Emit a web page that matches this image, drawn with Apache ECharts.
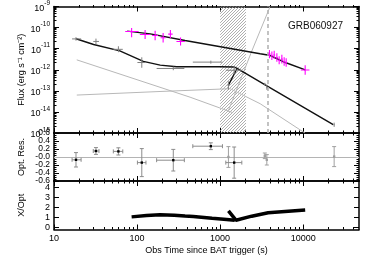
<!DOCTYPE html>
<html>
<head>
<meta charset="utf-8">
<script src="https://cdn.jsdelivr.net/npm/echarts@6/dist/echarts.min.js"></script>
<style>
html, body { margin: 0; padding: 0; background: #fff; }
#chart { width: 374px; height: 267px; }
</style>
</head>
<body>
<div id="chart"></div>
<script>
// 光学数据点（上图灰色十字，与残差黑点同一批）
const optT   = [18.4, 32, 59.6, 114, 273, 773, 1476]
const optTlo = [16.5, 29.7, 51.8, 101, 172, 469, 1171]
const optThi = [21.2, 34.8, 67.3, 128, 371, 1067, 1825]
const optF   = [2.9e-11, 2.2e-11, 9.3e-12, 2.2e-12, 1.15e-12, 2.3e-12, 9.5e-13]
const optFlo = [2.4e-11, 1.6e-11, 6.8e-12, 1.24e-12, 0.95e-12, 1.95e-12, 6.0e-13]
const optFhi = [3.5e-11, 3.0e-11, 1.3e-11, 3.9e-12, 1.4e-12, 2.7e-12, 1.5e-12]

// X 射线数据点（上图灰色小十字）
const xrtT   = [1259, 3453, 3650, 23600]
const xrtF   = [1.78e-13, 2.1e-13, 1.48e-13, 2.45e-15]
const xrtFlo = [1.12e-13, 1.83e-13, 1.12e-13, 1.95e-15]
const xrtFhi = [2.8e-13, 2.4e-13, 1.95e-13, 3.1e-15]

// UVOT 数据点（品红色）
const uvotT   = [86, 125, 165, 206, 252, 334, 3926, 4198, 4477, 4823, 5140, 5537, 5903, 6240, 10570]
const uvotTlo = [72, 108, 152, 192, 237, 298, 3800, 4080, 4360, 4700, 5010, 5400, 5760, 6090, 9380]
const uvotThi = [104, 143, 179, 221, 268, 378, 4050, 4320, 4600, 4950, 5270, 5680, 6050, 6400, 11900]
const uvotF   = [6.5e-11, 4.7e-11, 4.2e-11, 3.3e-11, 4.9e-11, 2.2e-11, 5.5e-12, 4.6e-12, 5.0e-12, 3.8e-12, 2.8e-12, 3.2e-12, 2.45e-12, 2.2e-12, 9.8e-13]
const uvotFlo = [3.5e-11, 2.9e-11, 2.5e-11, 1.95e-11, 3.2e-11, 1.42e-11, 3.5e-12, 2.9e-12, 3.2e-12, 2.4e-12, 1.8e-12, 2.0e-12, 1.55e-12, 1.4e-12, 5.8e-13]
const uvotFhi = [9.5e-11, 7.6e-11, 7.1e-11, 5.6e-11, 7.6e-11, 3.4e-11, 8.7e-12, 7.3e-12, 7.9e-12, 6.0e-12, 4.4e-12, 5.1e-12, 3.9e-12, 3.5e-12, 1.65e-12]

// 模型曲线（黑色）
const modelAT = [76, 144, 378, 3034, 3900, 6100, 10600]
const modelAF = [6.8e-11, 5.0e-11, 2.45e-11, 5.7e-12, 4.9e-12, 2.2e-12, 9.8e-13]
const modelBT = [18.4, 30, 62, 119, 190, 300, 600, 1000, 1480, 1600]
const modelBF = [2.95e-11, 1.58e-11, 7.9e-12, 2.5e-12, 1.66e-12, 1.38e-12, 1.38e-12, 1.38e-12, 1.35e-12, 1.15e-12]
const modelCT = [1250, 1600, 3786, 23000]
const modelCF = [1.78e-13, 1.15e-12, 1.58e-13, 2.5e-15]

// 模型分量（浅灰色）
const compDecayT = [18.8, 435, 1435]
const compDecayF = [2.95e-12, 5.0e-14, 9.1e-15]
const compFlatT  = [18.8, 189, 1318, 3034, 10500]
const compFlatF  = [6.3e-14, 9.3e-14, 1.26e-13, 2.45e-14, 1.0e-15]
const compRiseT  = [1240, 2410, 4000]
const compRiseF  = [1.0e-14, 7.8e-12, 1.0e-9]

// 阴影区间与虚线
const hatchBand = [1000, 2050]
const dashT = 3786

// 残差
const resOpt    = [-0.07, 0.15, 0.14, -0.14, -0.08, 0.27, -0.14]
const resOptErr = [0.18, 0.085, 0.09, 0.35, 0.27, 0.085, 0.39]
const resXrt    = [0.0, 0.03, -0.07, 0.01]
const resXrtErr = [0.26, 0.07, 0.13, 0.25]

// X/Opt 比值
const ratio1T = [86, 130, 189, 280, 378, 476, 800, 1200, 1500]
const ratio1V = [1.05, 1.18, 1.26, 1.22, 1.13, 1.08, 0.92, 0.8, 0.72]
const ratio2T = [1260, 1550, 2400, 3786, 10570]
const ratio2V = [1.65, 0.72, 1.12, 1.46, 1.74]

// 刻度
const X_MIN = 10
const X_MAX = 47000
const xMajor = [10, 100, 1000, 10000]
const xMinor = []
for (let d = 10; d < X_MAX; d *= 10) {
  for (let m = 2; m <= 9; m++) if (m * d < X_MAX) xMinor.push(m * d)
}
const fluxMajor = [1e-15, 1e-14, 1e-13, 1e-12, 1e-11, 1e-10, 1e-9]
const fluxMinor = []
for (let e = -15; e < -9; e++) {
  for (let m = 2; m <= 9; m++) fluxMinor.push(m * Math.pow(10, e))
}
const resMajor = [-0.6, -0.4, -0.2, 0, 0.2, 0.4, 0.6]
const resLabelsA = [-0.6, -0.2, 0.2, 0.6]   // 残差标签分两组，避免重叠被隐藏
const resLabelsB = [-0.4, 0, 0.4]
const resMinor = []
for (let i = -12; i <= 12; i++) if (i % 4 !== 0) resMinor.push(i * 0.05)
const ratioMajor = [0, 1, 2, 3, 4]

const FONT = 'Liberation Sans'

const zip = (a, b) => a.map((v, i) => [v, b[i]])

// 阴影图案
const hatch = document.createElement('canvas')
hatch.width = 3
hatch.height = 3
const hc = hatch.getContext('2d')
hc.strokeStyle = '#9a9a9a'
hc.lineWidth = 0.8
hc.beginPath()
hc.moveTo(0, 3); hc.lineTo(3, 0)
hc.moveTo(-1, 1); hc.lineTo(1, -1)
hc.moveTo(2, 4); hc.lineTo(4, 2)
hc.stroke()

const panels = [
  { top: 5, height: 128 },
  { top: 133, height: 48 },
  { top: 181, height: 48.5 }
]

const grids = []
const xAxes = []
const yAxes = []
const lineCol = '#000'

function yCfg (p) {
  if (p === 0) return { type: 'log', min: 1e-15, max: 1e-9, major: fluxMajor, minor: fluxMinor }
  if (p === 1) return { type: 'value', min: -0.6, max: 0.6, major: resMajor, minor: resMinor }
  return { type: 'value', min: -0.2, max: 4.6, major: ratioMajor, minor: null }
}

const resFmt = v => Math.abs(v) < 1e-9 ? '-0.0' : v.toFixed(1)

// 主刻度网格 0-2，次刻度网格 3-5（同一位置叠放）
for (let layer = 0; layer < 2; layer++) {
  panels.forEach((pn, p) => {
    const g = layer * 3 + p
    const main = layer === 0
    grids.push({ left: 54, right: 15, top: pn.top, height: pn.height })
    const yc = yCfg(p)
    ;['bottom', 'top'].forEach(pos => {
      const ax = {
        type: 'log', gridIndex: g, min: X_MIN, max: X_MAX, position: pos,
        splitLine: { show: false },
        axisLine: { show: main, onZero: false, lineStyle: { color: lineCol, width: 1.5 } },
        axisTick: { show: true, inside: true, length: main ? 5 : 2.5, customValues: main ? xMajor : xMinor, lineStyle: { color: lineCol, width: 1 } },
        axisLabel: { show: false }
      }
      if (main && p === 2 && pos === 'bottom') {
        ax.axisLabel = { show: true, customValues: xMajor, fontFamily: FONT, fontSize: 9, color: '#000', margin: 5, formatter: v => String(Math.round(v)) }
        ax.name = 'Obs Time since BAT trigger (s)'
        ax.nameLocation = 'middle'
        ax.nameGap = 17
        ax.nameTextStyle = { fontFamily: FONT, fontSize: 9, color: '#000' }
      }
      xAxes.push(ax)
    })
    ;['left', 'right'].forEach(pos => {
      const ticks = main ? yc.major : yc.minor
      const ay = {
        type: yc.type, gridIndex: g, min: yc.min, max: yc.max, position: pos,
        splitLine: { show: false },
        axisLine: { show: main, onZero: false, lineStyle: { color: lineCol, width: 1.5 } },
        axisTick: ticks ? { show: true, inside: true, length: main ? 5 : 2.5, customValues: ticks, lineStyle: { color: lineCol, width: 1 } } : { show: false },
        axisLabel: { show: false }
      }
      if (pos === 'left' && (main || p === 1)) {
        const lab = {
          show: true, customValues: yc.major, fontFamily: FONT, fontSize: 9, color: '#000', margin: 4,
          showMinLabel: true, showMaxLabel: true, hideOverlap: false
        }
        if (p === 0) {
          lab.formatter = v => '{b|10}{s|' + Math.round(Math.log10(v)) + '}'
          lab.rich = {
            b: { fontFamily: FONT, fontSize: 9, color: '#000', verticalAlign: 'bottom', padding: [4, 0, 0, 0] },
            s: { fontFamily: FONT, fontSize: 6.5, color: '#000', verticalAlign: 'top' }
          }
          ay.name = 'Flux (erg s\u207B\u00B9 cm\u207B\u00B2)'
        } else if (p === 1) {
          lab.customValues = main ? resLabelsA : resLabelsB
          lab.formatter = resFmt
          lab.fontSize = 8.5
          if (main) ay.name = 'Opt. Res.'
        } else {
          lab.formatter = v => String(v)
          ay.name = 'X/Opt'
        }
        ay.axisLabel = lab
        if (main) {
          ay.nameLocation = 'middle'
          ay.nameGap = 28
          ay.nameMoveOverlap = false
          ay.nameTextStyle = { fontFamily: FONT, fontSize: 9, color: '#000' }
        }
      }
      yAxes.push(ay)
    })
  })
}

// 误差棒（custom series 通过坐标轴换算）
function crossItem (color, width, cap, dot) {
  return function (params, api) {
    const x = api.value(0)
    const y = api.value(1)
    const c = api.coord([x, y])
    const xl = api.coord([api.value(2), y])
    const xh = api.coord([api.value(3), y])
    const yl = api.coord([x, api.value(4)])
    const yh = api.coord([x, api.value(5)])
    const st = { stroke: color, lineWidth: width }
    const kids = [
      { type: 'line', shape: { x1: xl[0], y1: c[1], x2: xh[0], y2: c[1] }, style: st },
      { type: 'line', shape: { x1: c[0], y1: yl[1], x2: c[0], y2: yh[1] }, style: st }
    ]
    if (cap) {
      kids.push({ type: 'line', shape: { x1: c[0] - cap, y1: yl[1], x2: c[0] + cap, y2: yl[1] }, style: st })
      kids.push({ type: 'line', shape: { x1: c[0] - cap, y1: yh[1], x2: c[0] + cap, y2: yh[1] }, style: st })
      if (xh[0] - xl[0] > 1) {
        kids.push({ type: 'line', shape: { x1: xl[0], y1: c[1] - cap, x2: xl[0], y2: c[1] + cap }, style: st })
        kids.push({ type: 'line', shape: { x1: xh[0], y1: c[1] - cap, x2: xh[0], y2: c[1] + cap }, style: st })
      }
    }
    if (dot) kids.push({ type: 'rect', shape: { x: c[0] - 1.2, y: c[1] - 1.2, width: 2.4, height: 2.4 }, style: { fill: dot } })
    return { type: 'group', children: kids }
  }
}

function errSeries (p, rows, color, width, cap, dot) {
  return {
    type: 'custom', xAxisIndex: p * 2, yAxisIndex: p * 2, clip: true, z: 5,
    renderItem: crossItem(color, width, cap, dot),
    encode: { x: [0, 2, 3], y: [1, 4, 5] },
    data: rows
  }
}

function lineSeries (p, data, color, width, z) {
  return {
    type: 'line', xAxisIndex: p * 2, yAxisIndex: p * 2, data: data, showSymbol: false, symbol: 'none',
    lineStyle: { color: color, width: width }, clip: true, z: z, silent: true
  }
}

const optRows = optT.map((t, i) => [t, optF[i], optTlo[i], optThi[i], optFlo[i], optFhi[i]])
const xrtRows = xrtT.map((t, i) => [t, xrtF[i], t * 0.985, t * 1.015, xrtFlo[i], xrtFhi[i]])
const uvotRows = uvotT.map((t, i) => [t, uvotF[i], uvotTlo[i], uvotThi[i], uvotFlo[i], uvotFhi[i]])
const resOptRows = optT.map((t, i) => [t, resOpt[i], optTlo[i], optThi[i], resOpt[i] - resOptErr[i], resOpt[i] + resOptErr[i]])
const resXrtRows = xrtT.map((t, i) => [t, resXrt[i], t, t, resXrt[i] - resXrtErr[i], resXrt[i] + resXrtErr[i]])

const series = [
  {
    type: 'line', xAxisIndex: 0, yAxisIndex: 0, data: [], z: 1, silent: true,
    markArea: {
      silent: true,
      itemStyle: { color: { image: hatch, repeat: 'repeat' } },
      data: [[{ xAxis: hatchBand[0] }, { xAxis: hatchBand[1] }]]
    },
    markLine: {
      silent: true, symbol: 'none', label: { show: false },
      lineStyle: { color: '#b4b4b4', width: 1.6, type: [4, 3] },
      data: [{ xAxis: dashT }]
    }
  },
  lineSeries(0, zip(compDecayT, compDecayF), '#b8b8b8', 1, 2),
  lineSeries(0, zip(compFlatT, compFlatF), '#b8b8b8', 1, 2),
  lineSeries(0, zip(compRiseT, compRiseF), '#b8b8b8', 1, 2),
  lineSeries(0, zip(modelBT, modelBF), '#111', 1.4, 3),
  lineSeries(0, zip(modelCT, modelCF), '#111', 1.4, 3),
  lineSeries(0, zip(modelAT, modelAF), '#111', 1.4, 3),
  errSeries(0, optRows, '#808080', 1, 0, null),
  errSeries(0, xrtRows, '#808080', 1, 0, null),
  errSeries(0, uvotRows, '#ff00ff', 1.1, 0, null),
  {
    type: 'line', xAxisIndex: 2, yAxisIndex: 2, data: [], silent: true,
    markLine: {
      silent: true, symbol: 'none', label: { show: false },
      lineStyle: { color: '#b4b4b4', width: 1, type: 'solid' },
      data: [{ yAxis: 0 }]
    }
  },
  errSeries(1, resXrtRows, '#a0a0a0', 1, 2, '#a0a0a0'),
  errSeries(1, resOptRows, '#8c8c8c', 1, 2, '#000'),
  lineSeries(2, zip(ratio1T, ratio1V), '#000', 3.5, 3),
  lineSeries(2, zip(ratio2T, ratio2V), '#000', 3.5, 3)
]

const chart = echarts.init(document.getElementById('chart'), null, { renderer: 'canvas' })
chart.setOption({
  animation: false,
  backgroundColor: '#fff',
  title: {
    text: 'GRB060927', left: 283, top: 16,
    textStyle: { fontFamily: FONT, fontSize: 10, fontWeight: 'normal', color: '#111' }
  },
  grid: grids,
  xAxis: xAxes,
  yAxis: yAxes,
  series: series
})
</script>
</body>
</html>
